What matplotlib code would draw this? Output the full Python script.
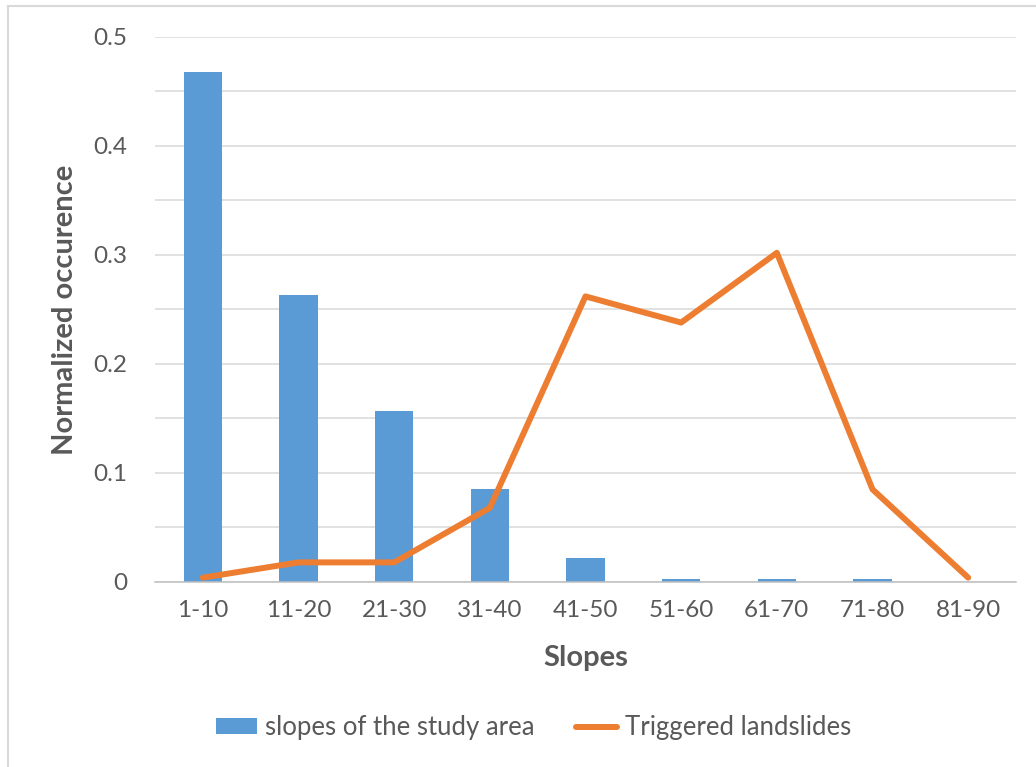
import numpy as np
import matplotlib.pyplot as plt
from matplotlib.lines import Line2D

plt.rcParams.update(
    {
        "font.family": ["Lato", "DejaVu Sans"],
        "xtick.labelsize": 17.5,
        "ytick.labelsize": 17.5,
    }
)

slope_classes = ["1-10", "11-20", "21-30", "31-40", "41-50", "51-60", "61-70", "71-80", "81-90"]
study_area = [0.468, 0.263, 0.157, 0.085, 0.022, 0.003, 0.003, 0.003, 0.0]
landslides = [0.004, 0.018, 0.018, 0.068, 0.262, 0.238, 0.302, 0.085, 0.004]

blue = "#5B9BD5"
orange = "#ED7D31"
grey_text = "#595959"

fig = plt.figure(figsize=(10.36, 7.67), dpi=100)
ax = fig.add_axes([0.1496, 0.2412, 0.8311, 0.7106])

x = np.arange(len(slope_classes))
bars = ax.bar(x, study_area, width=0.4, color=blue, zorder=2)
line, = ax.plot(x, landslides, color=orange, lw=4.3, solid_joinstyle="round",
                solid_capstyle="round", zorder=3)

ax.set_xlim(-0.5, len(slope_classes) - 0.5)
ax.set_ylim(0, 0.5)
ax.set_yticks([0, 0.1, 0.2, 0.3, 0.4, 0.5])
ax.set_yticklabels(["0", "0.1", "0.2", "0.3", "0.4", "0.5"])
ax.set_yticks(np.arange(0.05, 0.5, 0.1), minor=True)
ax.set_xticks(x)
ax.set_xticklabels(slope_classes)

ax.grid(axis="y", which="both", color="#D9D9D9", lw=1.1, zorder=0)
for side in ["top", "right", "left"]:
    ax.spines[side].set_visible(False)
ax.spines["bottom"].set_color("#BFBFBF")
ax.spines["bottom"].set_linewidth(1.1)
ax.tick_params(axis="both", which="both", length=0, colors=grey_text)
ax.tick_params(axis="x", pad=13)
ax.tick_params(axis="y", pad=20)

ax.set_xlabel("Slopes", fontsize=21, fontweight="bold", color=grey_text, labelpad=17)
ax.set_ylabel("Normalized occurence", fontsize=21, fontweight="bold", color=grey_text, labelpad=11)

fig.legend([bars, line], ["slopes of the study area", "Triggered landslides"],
           loc="center", bbox_to_anchor=(0.515, 0.051), ncol=2, frameon=False,
           fontsize=18.5, labelcolor=grey_text, handlelength=1.6, handleheight=0.6,
           columnspacing=1.6, handletextpad=0.3)

# light chart frame on the left and top edges
fig.add_artist(Line2D([8 / 1036, 8 / 1036], [0, 1 - 6 / 767], color="#D9D9D9", lw=1.5,
                      transform=fig.transFigure))
fig.add_artist(Line2D([8 / 1036, 1], [1 - 6 / 767, 1 - 6 / 767], color="#D9D9D9", lw=1.5,
                      transform=fig.transFigure))

fig.savefig("out.png", dpi=100)
